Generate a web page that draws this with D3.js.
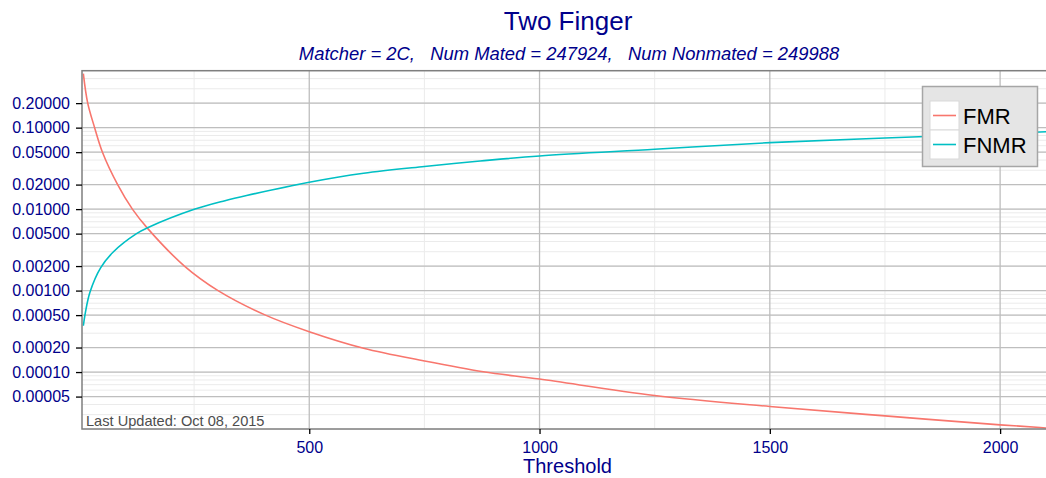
<!DOCTYPE html>
<html>
<head>
<meta charset="utf-8">
<script src="https://cdn.jsdelivr.net/npm/d3@7"></script>
<style>
    body { margin: 0; background: #fff; }
    svg { display: block; font-family: 'Liberation Sans', Arial, sans-serif; }
</style>
</head>
<body>
<svg id="chart" width="1046" height="478"></svg>
<script>
// values
const fmrThreshold = [9.5, 19, 34, 51, 84, 116, 149, 229, 302, 405, 500, 618, 750, 878, 1000, 1250, 1500, 1750, 2000, 2087, 2100];
const fmrValue = [0.46, 0.2, 0.1, 0.05, 0.02, 0.01, 0.0058, 0.002, 0.001, 0.0005, 0.000313, 0.000196, 0.000137, 0.000101, 0.000082, 0.0000515, 0.0000378, 0.000029, 0.0000225, 0.0000209, 0.0000206];
const fnmrThreshold = [9.5, 14, 24, 47, 75, 125, 149, 252, 317, 364, 500, 618, 750, 871, 1000, 1250, 1500, 1750, 2000, 2087, 2100];
const fnmrValue = [0.00037, 0.00054, 0.00096, 0.0019, 0.003, 0.005, 0.0059, 0.01, 0.0127, 0.0147, 0.0214, 0.0276, 0.0334, 0.0389, 0.0449, 0.0542, 0.0655, 0.0746, 0.0839, 0.0885, 0.089];

const seriesNames = ['FMR', 'FNMR'];
const seriesColors = ['#F8766D', '#00BFC4'];
const yTicks = [0.00005, 0.0001, 0.0002, 0.0005, 0.001, 0.002, 0.005, 0.01, 0.02, 0.05, 0.1, 0.2];
const xTicks = [500, 1000, 1500, 2000];
const xMinorTicks = [250, 750, 1250, 1750];
const xDomain = [6.6, 2117];
const yDomain = [0.00002, 0.5];

const title = 'Two Finger';
const subtitle = 'Matcher = 2C,   Num Mated = 247924,   Num Nonmated = 249988';
const xLabel = 'Threshold';
const footnote = 'Last Updated: Oct 08, 2015';

const textColor = '#00008B';
const panel = { left: 82, top: 70.7, right: 1054, bottom: 429 };

const svg = d3.select('#chart');

const x = d3.scaleLinear().domain(xDomain).range([panel.left, panel.right]);
const y = d3.scaleLog().domain(yDomain).range([panel.bottom, panel.top]);

// minor breaks: every 1..9 x 10^n inside the domain
const yMinorTicks = [];
for (let n = -5; n <= -1; n++)
    for (let k = 1; k <= 9; k++) {
        const v = k * Math.pow(10, n);
        if (v >= yDomain[0] && v <= yDomain[1]) yMinorTicks.push(v);
    }

svg.append('defs')
    .append('clipPath')
    .attr('id', 'panel-clip')
    .append('rect')
    .attr('x', panel.left)
    .attr('y', panel.top)
    .attr('width', panel.right - panel.left)
    .attr('height', panel.bottom - panel.top);

const grid = svg.append('g');
grid.selectAll('line.ymin')
    .data(yMinorTicks)
    .join('line')
    .attr('class', 'ymin')
    .attr('x1', panel.left)
    .attr('x2', panel.right)
    .attr('y1', (d) => y(d))
    .attr('y2', (d) => y(d))
    .attr('stroke', '#ebebeb')
    .attr('stroke-width', 1);
grid.selectAll('line.xmin')
    .data(xMinorTicks)
    .join('line')
    .attr('class', 'xmin')
    .attr('x1', (d) => x(d))
    .attr('x2', (d) => x(d))
    .attr('y1', panel.top)
    .attr('y2', panel.bottom)
    .attr('stroke', '#ebebeb')
    .attr('stroke-width', 1);
grid.selectAll('line.ymaj')
    .data(yTicks)
    .join('line')
    .attr('class', 'ymaj')
    .attr('x1', panel.left)
    .attr('x2', panel.right)
    .attr('y1', (d) => y(d))
    .attr('y2', (d) => y(d))
    .attr('stroke', '#bebebe')
    .attr('stroke-width', 1.3);
grid.selectAll('line.xmaj')
    .data(xTicks)
    .join('line')
    .attr('class', 'xmaj')
    .attr('x1', (d) => x(d))
    .attr('x2', (d) => x(d))
    .attr('y1', panel.top)
    .attr('y2', panel.bottom)
    .attr('stroke', '#bebebe')
    .attr('stroke-width', 1.3);

const series = [
    { name: seriesNames[0], points: d3.zip(fmrThreshold, fmrValue) },
    { name: seriesNames[1], points: d3.zip(fnmrThreshold, fnmrValue) },
];
const color = d3.scaleOrdinal().domain(seriesNames).range(seriesColors);

const line = d3.line()
    .x((d) => x(d[0]))
    .y((d) => y(d[1]))
    .curve(d3.curveCatmullRom.alpha(0.5));

svg.append('g')
    .attr('clip-path', 'url(#panel-clip)')
    .selectAll('path')
    .data(series)
    .join('path')
    .attr('d', (d) => line(d.points))
    .attr('fill', 'none')
    .attr('stroke', (d) => color(d.name))
    .attr('stroke-width', 1.6);

svg.append('rect')
    .attr('x', panel.left)
    .attr('y', panel.top)
    .attr('width', panel.right - panel.left)
    .attr('height', panel.bottom - panel.top)
    .attr('fill', 'none')
    .attr('stroke', '#7f7f7f')
    .attr('stroke-width', 1.5);

const yAxis = svg.append('g')
    .attr('transform', `translate(${panel.left},0)`)
    .call(d3.axisLeft(y).tickValues(yTicks).tickFormat(d3.format('.5f')).tickSize(6).tickPadding(6));
const xAxis = svg.append('g')
    .attr('transform', `translate(0,${panel.bottom})`)
    .call(d3.axisBottom(x).tickValues(xTicks).tickFormat(d3.format('d')).tickSize(5).tickPadding(8));

[yAxis, xAxis].forEach((axis) => {
    axis.select('.domain').remove();
    axis.selectAll('.tick line').attr('stroke', '#000').attr('stroke-width', 1.3);
    axis.selectAll('.tick text')
        .attr('fill', textColor)
        .style('font-size', '16px')
        .style('font-family', "'Liberation Sans', Arial, sans-serif");
});

svg.append('text')
    .attr('x', 86)
    .attr('y', 426)
    .attr('fill', '#4d4d4d')
    .style('font-size', '14.6px')
    .text(footnote);

svg.append('text')
    .attr('x', 568)
    .attr('y', 29.5)
    .attr('text-anchor', 'middle')
    .attr('fill', textColor)
    .style('font-size', '26px')
    .text(title);

svg.append('text')
    .attr('x', 569)
    .attr('y', 60)
    .attr('text-anchor', 'middle')
    .attr('fill', textColor)
    .style('font-size', '18.4px')
    .style('font-style', 'italic')
    .style('white-space', 'pre')
    .text(subtitle);

svg.append('text')
    .attr('x', 567.5)
    .attr('y', 473.3)
    .attr('text-anchor', 'middle')
    .attr('fill', textColor)
    .style('font-size', '20px')
    .text(xLabel);

// legend
const legend = svg.append('g').attr('transform', 'translate(922.5,86.5)');
legend.append('rect')
    .attr('width', 115)
    .attr('height', 80)
    .attr('fill', '#e5e5e5')
    .attr('stroke', '#a6a6a6')
    .attr('stroke-width', 1.5);
const keySize = 29;
const keys = legend.selectAll('g.key')
    .data(seriesNames)
    .join('g')
    .attr('class', 'key')
    .attr('transform', (d, i) => `translate(7.5,${14.5 + i * keySize})`);
keys.append('rect')
    .attr('width', keySize)
    .attr('height', keySize)
    .attr('fill', '#fff')
    .attr('stroke', '#d9d9d9')
    .attr('stroke-width', 1);
keys.append('line')
    .attr('x1', 3)
    .attr('x2', keySize - 3)
    .attr('y1', keySize / 2)
    .attr('y2', keySize / 2)
    .attr('stroke', (d) => color(d))
    .attr('stroke-width', 1.6);
keys.append('text')
    .attr('x', keySize + 4)
    .attr('y', keySize / 2 + 8)
    .attr('fill', '#000')
    .style('font-size', '22px')
    .text((d) => d);
</script>
</body>
</html>
